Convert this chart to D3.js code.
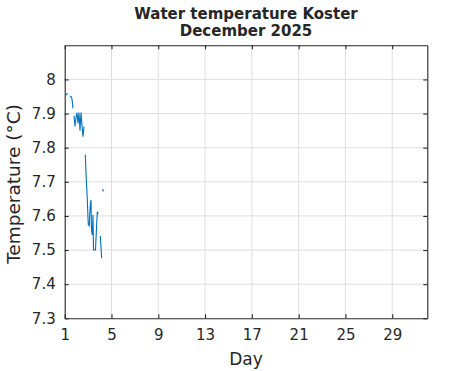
<!DOCTYPE html>
<html><head><meta charset="utf-8">
<script src="https://cdn.jsdelivr.net/npm/d3@7"></script>
<style>body{margin:0;background:#fff}svg{display:block}text{font-family:"DejaVu Sans",sans-serif;fill:#262626}</style>
</head><body><svg id="c" width="471" height="371"></svg>
<script>
const titleLines = ["Water temperature Koster", "December 2025"];
const xLabel = "Day";
const yLabel = "Temperature (°C)";
const xTicks = [1, 5, 9, 13, 17, 21, 25, 29];
const yTicks = [7.3, 7.4, 7.5, 7.6, 7.7, 7.8, 7.9, 8.0];
const xDomain = [1, 32];
const yDomain = [7.3, 8.1];
// null marks a gap in the record
const days  = [1.137, 1.239, null, 1.453, 1.538, 1.624, 1.709, null,
  1.795, 1.880, 1.966, 2.051, 2.137, 2.222, 2.308, 2.393, 2.479, 2.564, 2.650, null,
  2.761, 2.846, 2.932, 3.017, 3.103, 3.162, 3.205, 3.248, 3.291, 3.359, 3.419, 3.462, 3.632, 3.786, 3.872, null,
  4.043, 4.162, null, 4.256, 4.291];
const temps = [7.954, 7.960, null, 7.951, 7.950, 7.943, 7.915, null,
  7.894, 7.862, 7.888, 7.903, 7.871, 7.903, 7.850, 7.903, 7.865, 7.832, 7.862, null,
  7.779, 7.706, 7.647, 7.574, 7.571, 7.618, 7.638, 7.647, 7.559, 7.544, 7.603, 7.500, 7.500, 7.612, 7.606, null,
  7.541, 7.476, null, 7.679, 7.671];

const svg = d3.select("#c");
const L = 64.7, R = 427.3, T = 45.3, B = 318.3;
const x = d3.scaleLinear().domain(xDomain).range([L, R]);
const y = d3.scaleLinear().domain(yDomain).range([B, T]);
const axisCol = "#262626";

// grid
svg.append("g").selectAll("line").data(xTicks.slice(1)).join("line")
  .attr("x1", d => x(d)).attr("x2", d => x(d)).attr("y1", T).attr("y2", B)
  .attr("stroke", "#dfdfdf").attr("stroke-width", 1);
svg.append("g").selectAll("line").data(yTicks.slice(1)).join("line")
  .attr("y1", d => y(d)).attr("y2", d => y(d)).attr("x1", L).attr("x2", R)
  .attr("stroke", "#dfdfdf").attr("stroke-width", 1);

// data line
const pts = days.map((d, i) => [d, temps[i]]);
svg.append("path").datum(pts)
  .attr("d", d3.line().defined(d => d[0] !== null && d[1] !== null).x(d => x(d[0])).y(d => y(d[1])))
  .attr("fill", "none").attr("stroke", "#0072BD").attr("stroke-width", 1.1);

// axes
const tl = -4;
const ax = (g, axis) => { g.call(axis); g.select(".domain").attr("stroke", axisCol).attr("stroke-width", 1.1);
  g.selectAll(".tick line").attr("stroke", axisCol).attr("stroke-width", 1.1);
  g.selectAll("text").attr("font-size", 15).attr("fill", axisCol).attr("font-family", '"DejaVu Sans",sans-serif'); };
svg.append("g").attr("transform", `translate(0,${B})`)
  .call(g => ax(g, d3.axisBottom(x).tickValues(xTicks).tickSizeInner(tl).tickSizeOuter(0).tickPadding(11).tickFormat(d3.format("d"))));
svg.append("g").attr("transform", `translate(0,${T})`)
  .call(g => { ax(g, d3.axisTop(x).tickValues(xTicks).tickSizeInner(tl).tickSizeOuter(0)); g.selectAll("text").remove(); });
svg.append("g").attr("transform", `translate(${L},0)`)
  .call(g => ax(g, d3.axisLeft(y).tickValues(yTicks).tickSizeInner(tl).tickSizeOuter(0).tickPadding(9).tickFormat(d => d3.format("")(+d.toFixed(1)))));
svg.append("g").attr("transform", `translate(${R},0)`)
  .call(g => { ax(g, d3.axisRight(y).tickValues(yTicks).tickSizeInner(tl).tickSizeOuter(0)); g.selectAll("text").remove(); });

// titles
svg.append("g").selectAll("text").data(titleLines).join("text")
  .attr("x", (L + R) / 2).attr("y", (d, i) => 19 + i * 17)
  .attr("text-anchor", "middle").attr("font-weight", "bold").attr("font-size", 15).text(d => d);
svg.append("text").attr("x", (L + R) / 2).attr("y", 365).attr("text-anchor", "middle")
  .attr("font-size", 17).text(xLabel);
svg.append("text").attr("transform", `translate(19.5,184) rotate(-90)`)
  .attr("text-anchor", "middle").attr("font-size", 18.5).text(yLabel);
</script></body></html>
